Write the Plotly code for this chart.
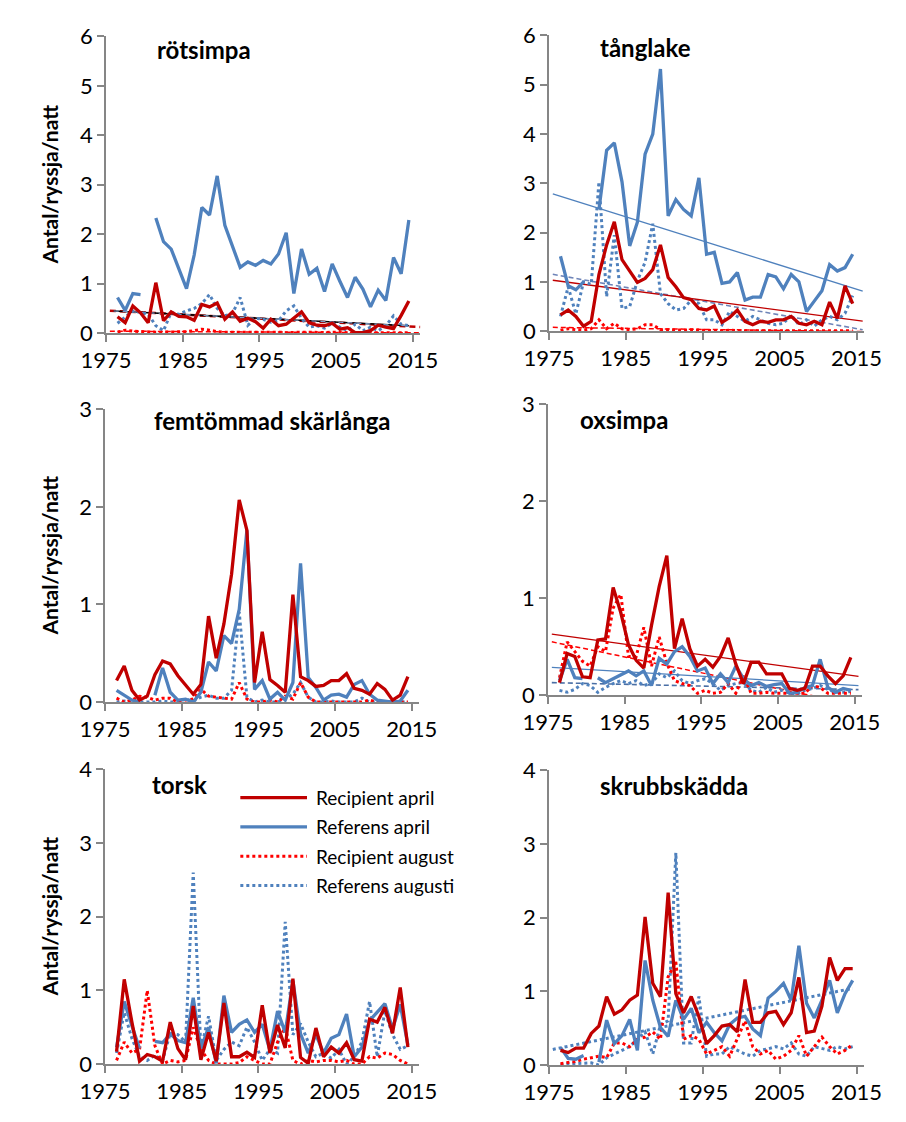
import numpy as np
import plotly.graph_objects as go

# ---------------- data ----------------
years = list(range(1976, 2015))          # sampling years (plotted mid-year)
x_ticks = [1975, 1985, 1995, 2005, 2015]
series_names = ["Recipient april", "Referens april", "Recipient august", "Referens augusti"]

# rötsimpa
rot_rec_apr = [0.33,0.21,0.55,0.41,0.21,1.02,0.25,0.43,0.34,0.33,0.26,0.58,0.53,0.61,0.28,0.43,0.24,0.30,0.23,0.10,
               0.28,0.15,0.18,0.30,0.43,0.21,0.16,0.15,0.20,0.08,0.11,0.01,0.01,0.05,0.16,0.12,0.09,0.36,0.65]
rot_ref_apr = [0.72,0.46,0.80,0.78,None,2.33,1.85,1.70,1.32,0.90,1.58,2.54,2.39,3.18,2.18,1.73,1.33,1.44,1.37,1.47,
               1.40,1.60,2.03,0.80,1.70,1.19,1.31,0.84,1.40,1.05,0.72,1.13,0.89,0.53,0.87,0.66,1.53,1.20,2.29]
rot_rec_aug = [0.02,0.06,0.04,0.03,0.03,0.02,0.02,0.02,0.02,0.03,0.05,0.08,0.06,0.03,0.02,0.02,0.02,0.02,0.03,0.02,
               0.02,0.02,0.01,0.02,0.02,0.02,0.01,0.01,0.02,0.01,0.01,0.01,0.01,0.01,0.01,0.01,0.01,0.01,0.01]
rot_ref_aug = [0.20,0.32,0.45,0.42,0.38,0.15,0.05,0.42,0.38,0.45,0.50,0.60,0.78,0.50,0.35,0.40,0.72,0.16,0.30,0.28,
               0.22,0.25,0.45,0.55,0.30,0.12,0.15,0.10,0.20,0.12,0.05,0.18,0.05,0.12,0.05,0.15,0.35,0.18,0.15]

# tånglake
tang_rec_apr = [0.33,0.43,0.30,0.10,0.20,1.15,1.75,2.22,1.45,1.22,0.99,1.07,1.25,1.75,1.09,0.90,0.68,0.64,0.46,0.43,
                0.51,0.18,0.28,0.43,0.20,0.13,0.20,0.18,0.23,0.23,0.30,0.16,0.13,0.20,0.13,0.59,0.26,0.92,0.56]
tang_ref_apr = [1.52,0.92,0.84,1.00,None,2.47,3.67,3.82,3.03,1.73,2.21,3.59,4.00,5.32,2.34,2.67,2.47,2.34,3.11,1.56,
                1.60,0.97,1.00,1.19,0.63,0.69,0.69,1.15,1.10,0.86,1.15,1.00,0.40,0.61,0.82,1.35,1.22,1.29,1.56]
tang_rec_aug = [0.02,0.05,0.03,0.02,0.05,0.23,0.05,0.16,0.05,0.03,0.05,0.13,0.13,0.03,0.03,0.02,0.02,0.03,0.02,0.01,
                0.01,0.01,0.02,0.01,0.01,0.01,0.01,0.01,0.01,0.01,0.01,0.01,0.01,0.01,0.01,0.01,0.01,0.01,0.01]
tang_ref_aug = [0.30,0.90,0.35,1.00,0.95,3.03,0.70,1.95,0.46,0.50,1.02,1.40,2.18,0.76,0.56,0.43,0.46,0.63,0.56,0.23,
                0.23,0.13,0.40,0.30,0.20,0.30,0.23,0.16,0.13,0.16,0.33,0.13,0.23,0.10,0.23,0.30,0.23,0.36,0.72]

# femtömmad skärlånga
fem_rec_apr = [0.22,0.37,0.12,0.02,0.06,0.28,0.42,0.39,0.27,0.17,0.08,0.18,0.88,0.45,0.80,1.31,2.07,1.76,0.20,0.72,
               0.23,0.17,0.10,1.10,0.26,0.22,0.16,0.17,0.22,0.22,0.29,0.14,0.12,0.08,0.19,0.13,0.02,0.07,0.26]
fem_ref_apr = [0.12,0.07,0.02,0.00,None,0.07,0.35,0.10,0.02,0.03,0.00,0.10,0.41,0.32,0.68,0.60,0.95,1.76,0.13,0.22,
               0.03,0.10,0.02,0.20,1.42,0.25,0.15,0.02,0.07,0.08,0.05,0.18,0.22,0.08,0.02,0.01,0.00,0.01,0.12]
fem_rec_aug = [0.04,0.00,0.02,0.06,0.05,0.02,0.04,0.04,0.00,0.02,0.03,0.13,0.06,0.05,0.04,0.03,0.20,0.03,0.00,0.00,
               0.02,0.00,0.06,0.03,0.20,0.05,0.00,0.00,0.00,0.00,0.00,0.00,0.00,0.02,0.00,0.00,0.00,0.00,0.00]
fem_ref_aug = [0.00,0.01,0.00,0.00,0.00,0.00,0.01,0.00,0.00,0.03,0.01,0.05,0.07,0.04,0.04,0.12,0.92,0.05,0.00,0.02,
               0.00,0.00,0.03,0.08,0.20,0.05,0.00,0.00,0.01,0.00,0.00,0.00,0.04,0.00,0.00,0.00,0.00,0.00,0.00]

# oxsimpa
ox_rec_apr = [0.13,0.43,0.40,0.19,0.18,0.57,0.58,1.11,0.85,0.52,0.36,0.28,0.72,1.12,1.44,0.48,0.79,0.48,0.30,0.37,
              0.29,0.40,0.59,0.32,0.12,0.34,0.34,0.22,0.22,0.22,0.07,0.05,0.07,0.30,0.30,0.20,0.12,0.20,0.39]
ox_ref_apr = [0.15,0.37,0.18,0.17,None,0.18,0.13,0.17,0.21,0.25,0.20,0.25,0.10,0.38,0.32,0.45,0.50,0.40,0.25,0.28,
              0.12,0.22,0.13,0.30,0.17,0.10,0.13,0.09,0.11,0.12,0.02,0.03,0.08,0.10,0.37,0.08,0.03,0.07,0.05]
ox_rec_aug = [0.18,0.55,0.45,0.35,0.30,0.50,0.45,0.90,1.04,0.40,0.40,0.70,0.30,0.60,0.33,0.15,0.12,0.10,0.02,0.05,
              0.02,0.03,0.12,0.02,0.20,0.02,0.02,0.03,0.02,0.02,0.02,0.02,0.02,0.10,0.08,0.02,0.02,0.02,0.02]
ox_ref_aug = [0.05,0.03,0.06,0.12,0.10,0.03,0.08,0.12,0.15,0.12,0.15,0.10,0.12,0.22,0.18,0.25,0.15,0.12,0.15,0.17,
              0.12,0.05,0.10,0.12,0.13,0.05,0.03,0.08,0.03,0.05,0.02,0.01,0.05,0.07,0.10,0.06,0.03,0.03,0.04]

# torsk
torsk_rec_apr = [0.17,1.15,0.57,0.04,0.13,0.10,0.04,0.57,0.21,0.06,0.79,0.06,0.43,0.04,0.83,0.10,0.10,0.16,0.09,0.80,
                 0.15,0.53,0.22,1.16,0.09,0.01,0.49,0.10,0.23,0.15,0.29,0.06,0.04,0.61,0.57,0.77,0.42,1.04,0.23]
torsk_ref_apr = [0.23,0.85,0.52,0.21,None,0.31,0.29,0.41,0.32,0.29,0.90,0.21,0.50,0.01,0.93,0.43,0.54,0.60,0.43,0.54,
                 0.19,0.72,0.43,1.13,0.41,0.15,0.40,0.15,0.35,0.40,0.68,0.10,0.23,0.59,0.70,0.82,0.48,0.81,0.26]
torsk_rec_aug = [0.05,0.30,0.15,0.20,1.00,0.25,0.00,0.05,0.03,0.05,0.50,0.20,0.05,0.00,0.00,0.00,0.02,0.10,0.05,0.00,
                 0.00,0.30,0.50,0.05,0.00,0.05,0.03,0.05,0.05,0.03,0.05,0.00,0.00,0.10,0.08,0.15,0.13,0.05,0.00]
torsk_ref_aug = [0.15,0.70,0.35,0.10,0.05,0.12,0.05,0.42,0.40,0.30,2.60,0.20,0.65,0.05,0.20,0.30,0.25,0.50,0.30,0.05,
                 0.20,0.15,1.93,0.40,0.55,0.30,0.10,0.15,0.08,0.20,0.00,0.10,0.30,0.85,0.10,0.72,0.40,0.20,0.25]

# skrubbskädda
skr_rec_apr = [0.20,0.17,0.23,0.23,0.43,0.53,0.93,0.69,0.75,0.88,0.95,2.01,1.11,0.93,2.34,0.97,0.71,0.93,0.66,0.29,
               0.40,0.53,0.55,0.45,1.16,0.58,0.58,0.71,0.73,0.55,0.71,1.19,0.44,0.46,0.80,1.46,1.15,1.31,1.31]
skr_ref_apr = [0.24,0.09,0.08,0.13,None,0.04,0.61,0.29,0.40,0.62,0.20,1.42,0.88,0.51,0.39,0.88,0.62,0.77,0.44,0.58,
               0.44,0.33,0.55,0.64,0.66,0.49,0.40,0.91,1.00,1.11,0.88,1.62,0.84,0.64,0.88,1.15,0.71,0.97,1.15]
skr_rec_aug = [0.02,0.03,0.05,0.08,0.10,0.12,0.10,0.30,0.30,0.25,0.35,0.38,0.45,0.35,1.20,1.40,0.35,0.40,0.35,0.15,
               0.20,0.25,0.12,0.35,0.60,0.25,0.15,0.20,0.08,0.12,0.20,0.40,0.12,0.25,0.38,0.25,0.15,0.20,0.28]
skr_ref_aug = [0.00,0.02,0.02,0.03,0.03,0.00,0.10,0.15,0.20,0.25,0.35,0.45,0.15,0.55,0.60,2.88,0.30,0.30,0.93,0.12,
               0.15,0.15,0.25,0.20,0.15,0.12,0.20,0.22,0.25,0.22,0.30,0.15,0.12,0.25,0.22,0.20,0.25,0.22,0.25]

y_max = {"rot": 6, "tang": 6, "fem": 3, "ox": 3, "torsk": 4, "skr": 4}
titles = {"rot": "rötsimpa", "tang": "tånglake", "fem": "femtömmad skärlånga",
          "ox": "oxsimpa", "torsk": "torsk", "skr": "skrubbskädda"}
data = {
    "rot": [rot_rec_apr, rot_ref_apr, rot_rec_aug, rot_ref_aug],
    "tang": [tang_rec_apr, tang_ref_apr, tang_rec_aug, tang_ref_aug],
    "fem": [fem_rec_apr, fem_ref_apr, fem_rec_aug, fem_ref_aug],
    "ox": [ox_rec_apr, ox_ref_apr, ox_rec_aug, ox_ref_aug],
    "torsk": [torsk_rec_apr, torsk_ref_apr, torsk_rec_aug, torsk_ref_aug],
    "skr": [skr_rec_apr, skr_ref_apr, skr_rec_aug, skr_ref_aug],
}

# ---------------- styling / layout ----------------
W, H = 906, 1122
RED_DARK = "#C00000"
BLUE = "#4F81BD"
RED = "#FF0000"
AXIS_GREY = "#868686"
FONT = "Lato"

series_styles = [
    dict(color=RED_DARK, width=3.3, dash="solid"),
    dict(color=BLUE, width=3.3, dash="solid"),
    dict(color=RED, width=3, dash="3px,3px"),
    dict(color=BLUE, width=3, dash="3px,3px"),
]

# trend lines: (series index, line style, extension before, extension after)
trend_specs = {
    "rot": [(2, dict(color=RED, width=1.5, dash="5px,3px"), 1.0, 1.5),
            (0, dict(color=RED_DARK, width=2.5, dash="6px,4px"), 1.0, 1.5),
            (3, dict(color="#000000", width=1.6, dash="solid"), 0.5, 0.0),
            (3, dict(color="#7F9CC9", width=1.2, dash="5px,4px"), 0.5, 0.0)],
    "tang": [(2, dict(color=RED, width=1.5, dash="5px,3px"), 1.0, 1.3),
             (3, dict(color="#6E84B8", width=1.6, dash="5px,3px"), 1.0, 1.3),
             (0, dict(color=RED_DARK, width=1.3, dash="solid"), 1.0, 1.3),
             (1, dict(color=BLUE, width=1.3, dash="solid"), 1.0, 1.3)],
    "ox": [(2, dict(color=RED, width=1.5, dash="5px,3px"), 1.0, 1.0),
           (3, dict(color="#4A6FA5", width=1.6, dash="5px,3px"), 1.0, 1.0),
           (0, dict(color=RED_DARK, width=1.3, dash="solid"), 1.0, 1.0),
           (1, dict(color=BLUE, width=1.3, dash="solid"), 1.0, 1.0)],
    "skr": [(1, dict(color=BLUE, width=3, dash="3px,3px"), 1.0, 0.0)],
}

# panel pixel boxes: (left, right, top, bottom)
boxes = {
    "rot": (84, 414, 23, 327), "tang": (549, 880, 22, 325),
    "fem": (83, 413, 405, 705), "ox": (548, 878, 400, 698),
    "torsk": (83, 413, 774, 1076), "skr": (549, 880, 775, 1077),
}
title_pos = {"rot": (135, 36), "tang": (600, 34), "fem": (132, 417),
             "ox": (580, 416), "torsk": (130, 789), "skr": (600, 791)}
order = ["rot", "tang", "fem", "ox", "torsk", "skr"]
left_col = ["rot", "fem", "torsk"]

# legend (drawn inside the torsk panel)
legend_line_x = (225, 295)
legend_text_x = 302
legend_rows_y = [803, 833, 863, 893]

x_pos = [y + 0.5 for y in years]

fig = go.Figure()
layout = dict(width=W, height=H, margin=dict(l=0, r=0, t=0, b=0),
              paper_bgcolor="white", plot_bgcolor="white", showlegend=False,
              font=dict(family=FONT, color="black"), annotations=[], shapes=[])

for i, key in enumerate(order, start=1):
    xa = "x" if i == 1 else f"x{i}"
    ya = "y" if i == 1 else f"y{i}"
    l, r, t, b = boxes[key]
    layout["xaxis" if i == 1 else f"xaxis{i}"] = dict(
        domain=[l / W, r / W], anchor=ya, range=[1975, 2016], tickvals=x_ticks,
        showline=True, linecolor=AXIS_GREY, linewidth=1.5, ticks="outside", ticklen=7,
        tickcolor=AXIS_GREY, tickwidth=1.5, showgrid=False, zeroline=False,
        tickfont=dict(family=FONT, size=22, color="black"), fixedrange=True)
    layout["yaxis" if i == 1 else f"yaxis{i}"] = dict(
        domain=[1 - b / H, 1 - t / H], anchor=xa, range=[0, y_max[key]], dtick=1,
        showline=True, linecolor=AXIS_GREY, linewidth=1.5, ticks="outside", ticklen=7,
        tickcolor=AXIS_GREY, tickwidth=1.5, showgrid=False, zeroline=False,
        tickfont=dict(family=FONT, size=22, color="black"), fixedrange=True)

    # trend lines (linear least squares, drawn beneath the series)
    for idx, style, ext_lo, ext_hi in trend_specs.get(key, []):
        vals = data[key][idx]
        pts = [(xv, v) for xv, v in zip(x_pos, vals) if v is not None]
        px_, py_ = np.array([p[0] for p in pts]), np.array([p[1] for p in pts])
        a, c = np.polyfit(px_, py_, 1)
        tx = [px_.min() - ext_lo, px_.max() + ext_hi]
        fig.add_trace(go.Scatter(x=tx, y=[a * v + c for v in tx], mode="lines",
                                 line=style, hoverinfo="skip", xaxis=xa, yaxis=ya))

    # series (august dotted first, april on top)
    for idx in [3, 2, 1, 0]:
        fig.add_trace(go.Scatter(
            x=x_pos, y=data[key][idx], mode="lines", name=series_names[idx],
            line=series_styles[idx], connectgaps=False, xaxis=xa, yaxis=ya))

    tx_, ty_ = title_pos[key]
    layout["annotations"].append(dict(
        text=f"<b>{titles[key]}</b>", x=tx_ / W, y=1 - ty_ / H, xref="paper", yref="paper",
        xanchor="left", yanchor="middle", showarrow=False,
        font=dict(family=FONT, size=24, color="black")))
    if key in left_col:
        layout["annotations"].append(dict(
            text="<b>Antal/ryssja/natt</b>", x=25 / W, y=1 - (t + b) / 2 / H,
            xref="paper", yref="paper", xanchor="center", yanchor="middle",
            textangle=-90, showarrow=False,
            font=dict(family=FONT, size=21, color="black")))

# legend keys + labels
for idx, name in enumerate(series_names):
    yy = 1 - legend_rows_y[idx] / H
    st = series_styles[idx]
    layout["shapes"].append(dict(
        type="line", xref="paper", yref="paper",
        x0=legend_line_x[0] / W, x1=legend_line_x[1] / W, y0=yy, y1=yy,
        line=dict(color=st["color"], width=st["width"], dash=st["dash"])))
    layout["annotations"].append(dict(
        text=name, x=legend_text_x / W, y=yy, xref="paper", yref="paper",
        xanchor="left", yanchor="middle", showarrow=False,
        font=dict(family=FONT, size=19, color="black")))

fig.update_layout(**layout)
fig.write_html("out.html")
